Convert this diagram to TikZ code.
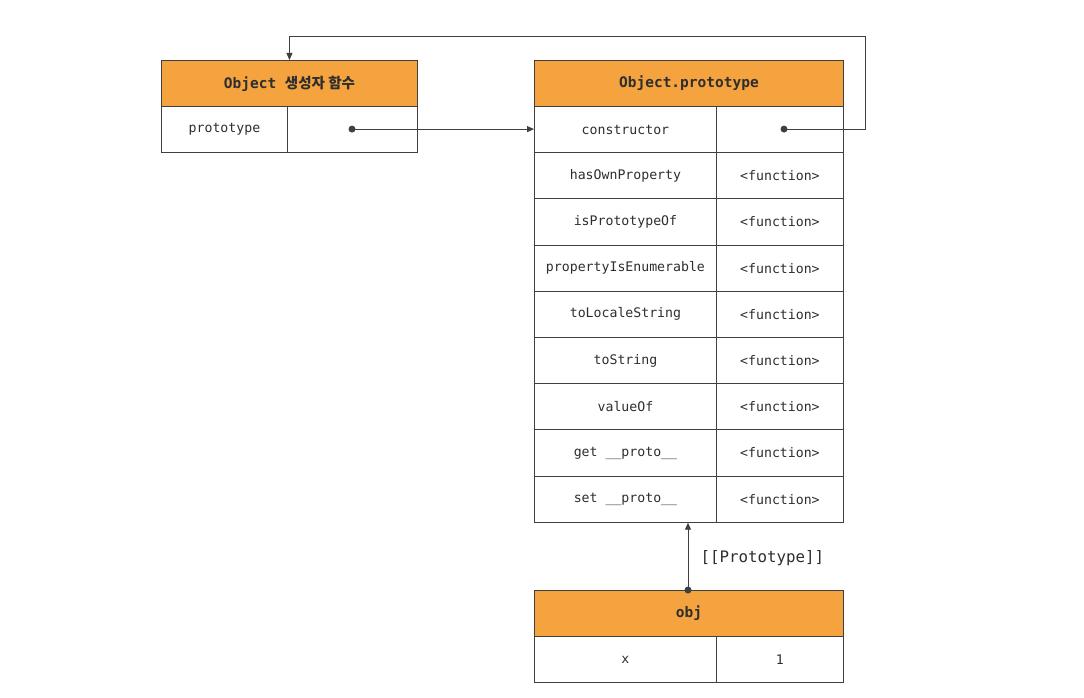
\documentclass[tikz,border=0pt]{standalone}
\usepackage{fontspec}
\setmonofont{DejaVu Sans Mono}
\newfontfamily\kr{Noto Sans CJK KR}
\usetikzlibrary{arrows.meta}
\definecolor{hdr}{HTML}{F4A33E}
\definecolor{ln}{HTML}{404040}
\definecolor{tx}{HTML}{2E2E2E}
\begin{document}
\begin{tikzpicture}[x=1pt,y=-1pt,
  cell/.style={draw=ln, line width=0.9pt, anchor=north west, inner sep=0pt,
    minimum height=46.2pt, text=tx, font=\ttfamily\fontsize{13.2}{15}\selectfont},
  head/.style={cell, fill=hdr, minimum height=46pt, font=\ttfamily\bfseries\fontsize{14.5}{16}\selectfont},
  dot/.style={circle, fill=ln, inner sep=0pt, minimum size=7pt},
  conn/.style={draw=ln, line width=0.9pt, -{Triangle[length=7pt,width=6pt]}}]
\useasboundingbox (0,0) rectangle (1084,698);
\fill[white] (0,0) rectangle (1084,698);
% Object constructor box
\node[head, minimum width=256pt] (h1) at (161,60) {Object {\kr\bfseries 생성자 함수}};
\node[cell, minimum width=126pt] (p1) at (161,106) {prototype};
\node[cell, minimum width=130pt] (pv1) at (287,106) {};
% Object.prototype box
\node[head, minimum width=309pt] (h2) at (534,60) {Object.prototype};
\node[cell, minimum width=182pt] (k0) at (534,106) {constructor};
\node[cell, minimum width=127pt] (v0) at (716,106) {};
\foreach \n [count=\i] in {hasOwnProperty, isPrototypeOf, propertyIsEnumerable, toLocaleString, toString, valueOf, get \_\_proto\_\_, set \_\_proto\_\_} {
  \node[cell, minimum width=182pt] (k\i) at (534,{106+46.2*\i}) {\n};
  \node[cell, minimum width=127pt] (v\i) at (716,{106+46.2*\i}) {<function>};
}
% obj box
\node[head, minimum width=309pt] (h3) at (534,590) {obj};
\node[cell, minimum width=182pt] (xk) at (534,636) {x};
\node[cell, minimum width=127pt] (xv) at (716,636) {1};
% connectors
\node[dot] (d1) at (352,129.1) {};
\draw[conn] (d1.center) -- (d1.center -| k0.west);
\node[dot] (d2) at (784,129.1) {};
\coordinate (c1) at (865,36);
\draw[conn] (d2.center) -| (c1) -| (h1.north);
\node[dot] (d3) at (688,590) {};
\draw[conn] (d3.center) -- (d3.center |- k8.south);
\node[anchor=west, text=tx, font=\ttfamily\fontsize{15.8}{18}\selectfont] (lab) at (697,558) {[[Prototype]]};
\end{tikzpicture}
\end{document}
